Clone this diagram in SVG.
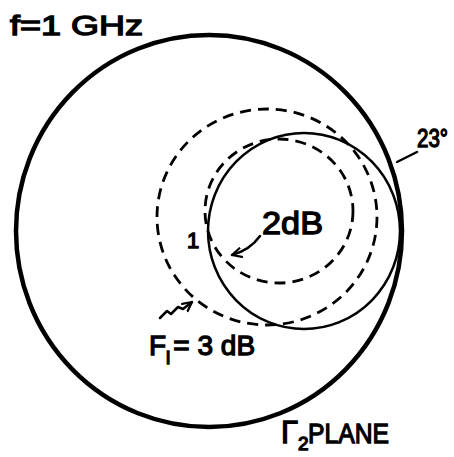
<svg xmlns="http://www.w3.org/2000/svg" width="454" height="457" viewBox="0 0 454 457">
<defs>
<style>
.lbl{font-family:"Liberation Sans","DejaVu Sans",sans-serif;fill:#000;stroke:#000;stroke-width:1.3}
.thick{fill:none;stroke:#000;stroke-width:4.5}
.solid{fill:none;stroke:#000;stroke-width:2.5}
.dash{fill:none;stroke:#000;stroke-width:2.8;stroke-dasharray:11 7}
.conn{fill:none;stroke:#000;stroke-width:2.5;stroke-linecap:round;stroke-linejoin:round}
</style>
<marker id="arr" viewBox="0 0 10 10" refX="9" refY="5" markerWidth="4.5" markerHeight="4.5" orient="auto" markerUnits="strokeWidth">
<path d="M1,1 L9,5 L1,9" fill="none" stroke="#000" stroke-width="2" stroke-linecap="round" stroke-linejoin="round"/>
</marker>
</defs>
<rect width="454" height="457" fill="#fff"/>
<g id="plane-circle"><ellipse class="thick" cx="209" cy="231" rx="193" ry="196"/></g>
<g id="circle-3dB"><ellipse class="dash" cx="267" cy="217" rx="110" ry="108"/></g>
<g id="circle-2dB"><ellipse class="dash" cx="279" cy="211" rx="74" ry="72"/></g>
<g id="gain-circle"><ellipse class="solid" cx="304" cy="231" rx="96" ry="98"/></g>
<g id="label-freq"><text class="lbl" x="10" y="35" font-size="28" textLength="133" lengthAdjust="spacingAndGlyphs">f=1 GHz</text></g>
<g id="label-angle"><text class="lbl" x="417" y="147" font-size="25" textLength="31" lengthAdjust="spacingAndGlyphs">23°</text></g>
<g id="label-2dB"><text class="lbl" x="262" y="234" font-size="32" textLength="61" lengthAdjust="spacingAndGlyphs">2dB</text></g>
<g id="label-1"><text class="lbl" x="187" y="248" font-size="22">1</text></g>
<g id="label-3dB"><text class="lbl" x="149" y="355" font-size="28">F<tspan font-size="19" dy="9">i</tspan><tspan dy="-9" dx="3">= 3 dB</tspan></text></g>
<g id="label-plane"><text class="lbl" x="281" y="443" font-size="31">Γ<tspan font-size="19" dy="7">2</tspan></text><text class="lbl" x="308" y="443" font-size="28" textLength="81" lengthAdjust="spacingAndGlyphs">PLANE</text></g>
<g id="connectors">
<path class="conn" d="M417,152 L397,162"/>
<path class="conn" d="M260,236 Q250,250 232,255" marker-end="url(#arr)"/>
<path class="conn" d="M160,318 L167,311 L171,314 L178,307 L183,309 L192,302" marker-end="url(#arr)"/>
</g>
</svg>
